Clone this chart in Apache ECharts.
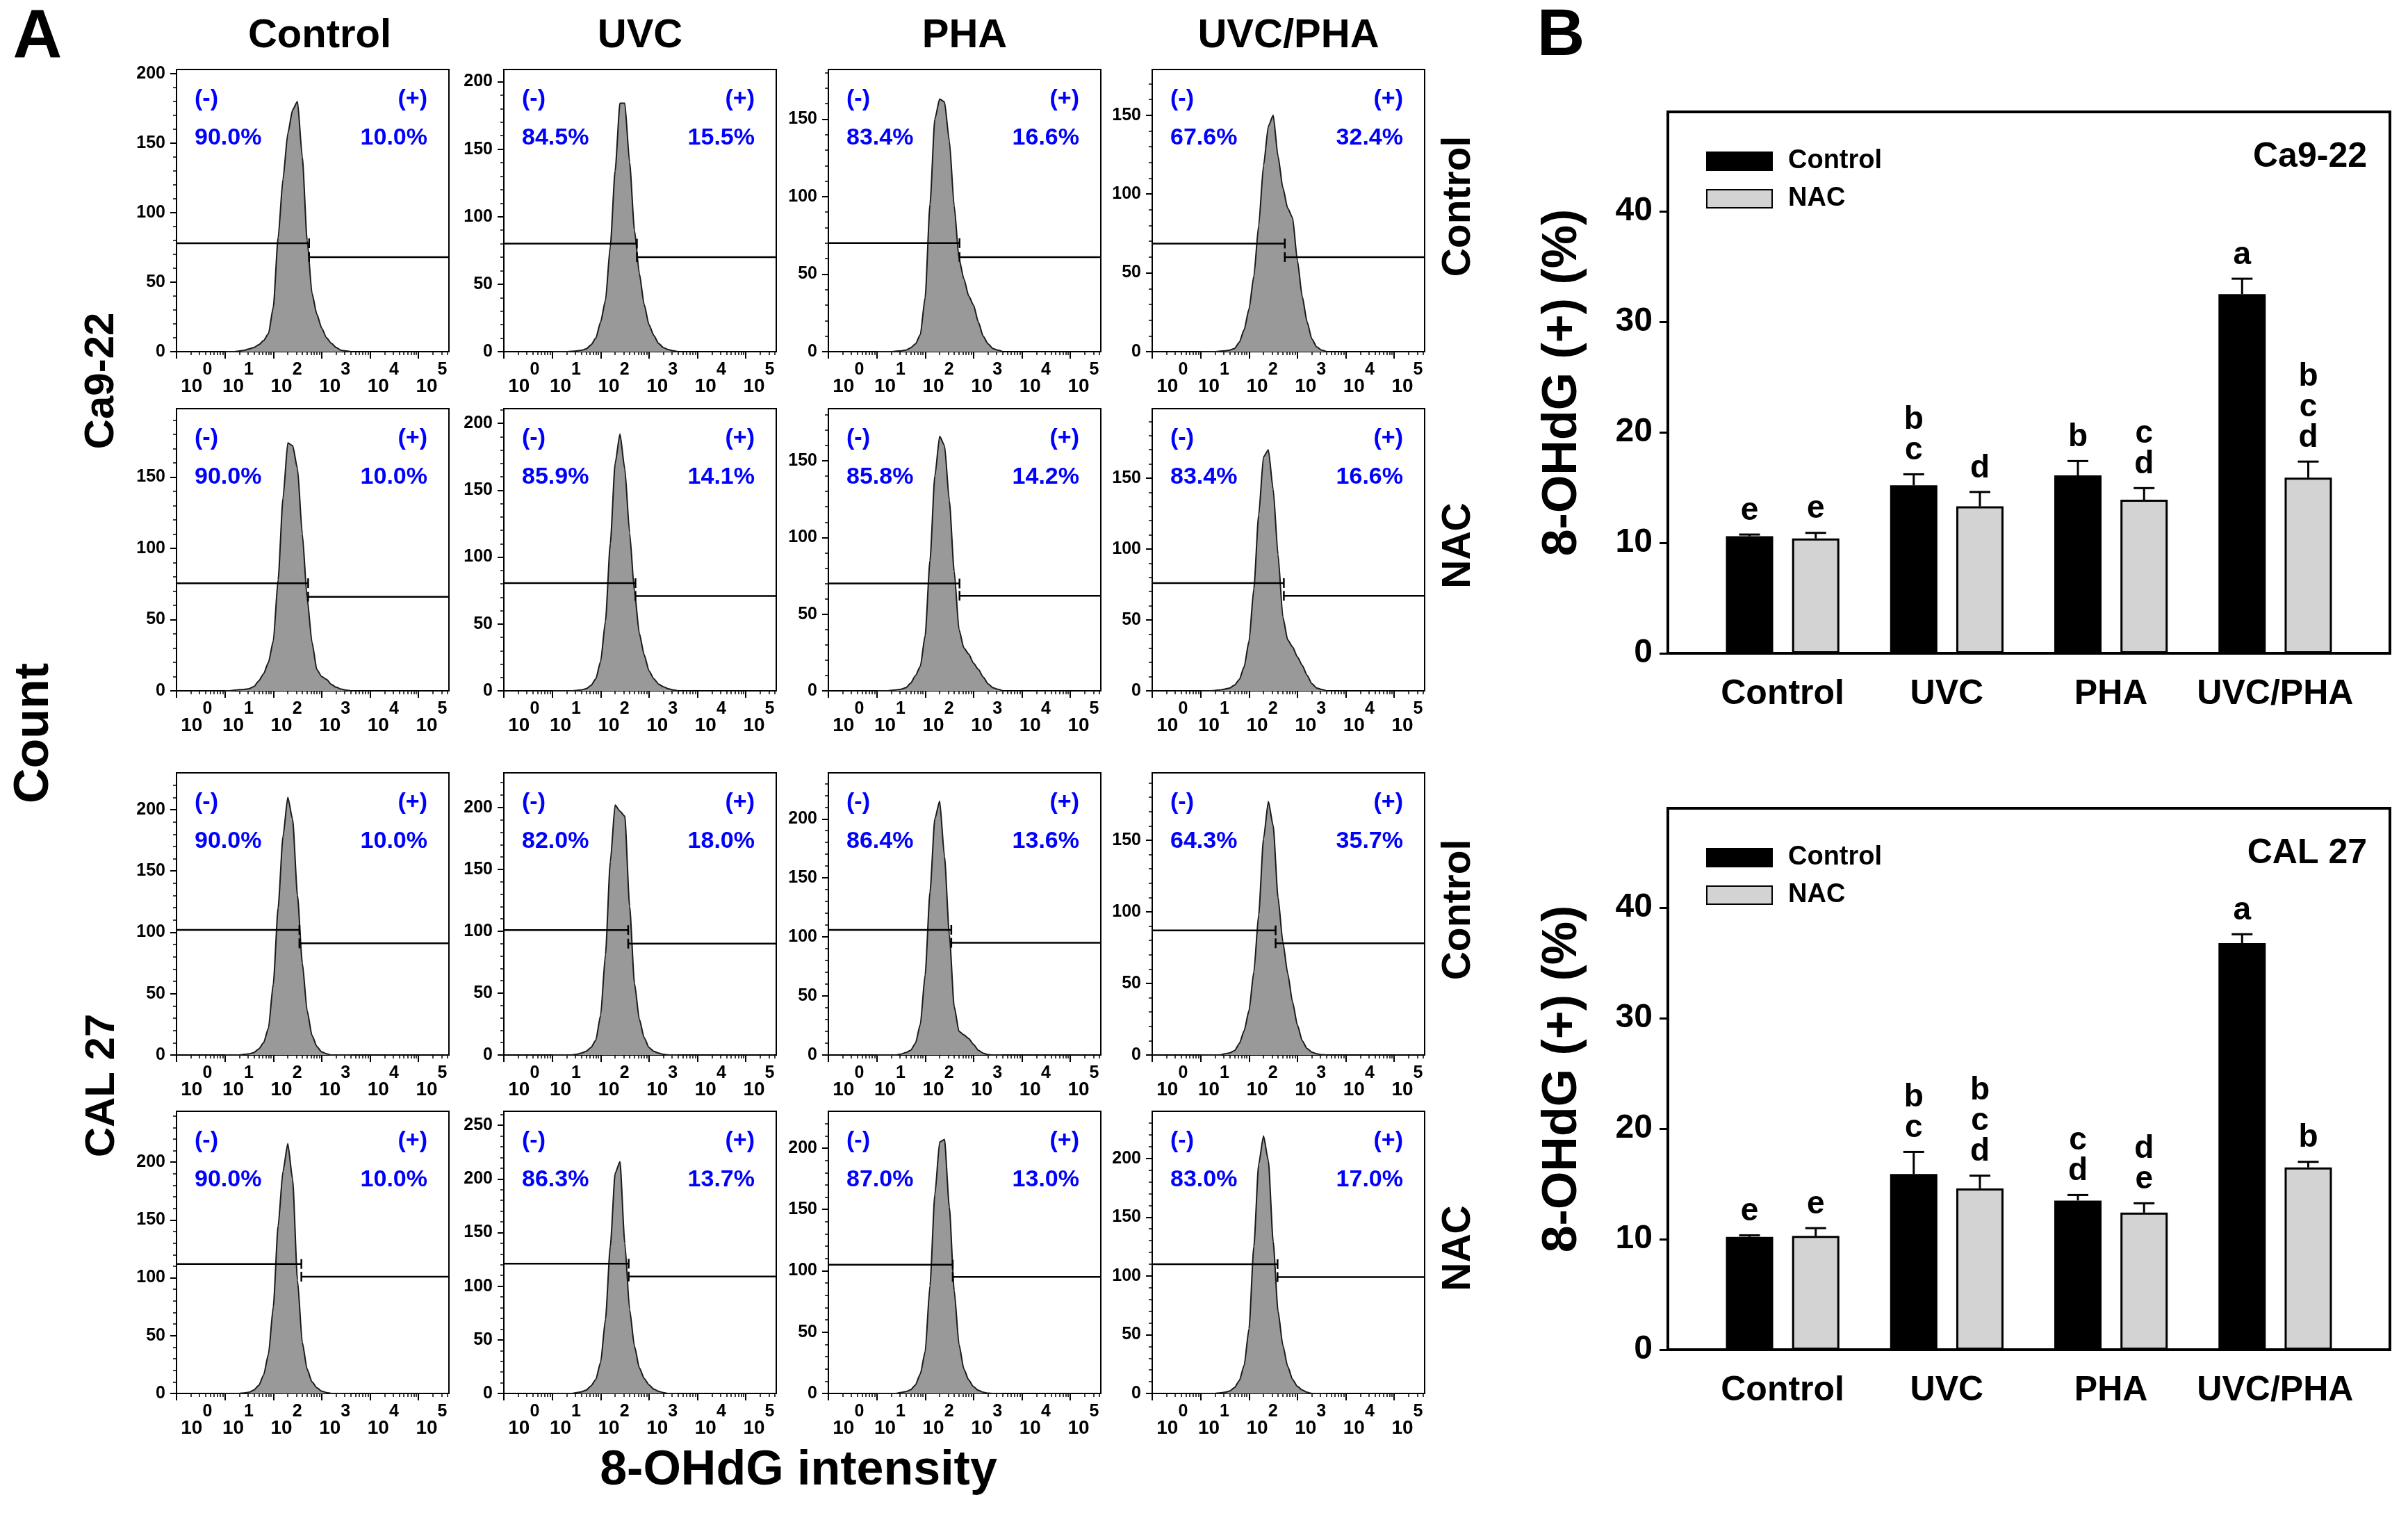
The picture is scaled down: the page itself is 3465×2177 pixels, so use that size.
<!DOCTYPE html>
<html>
<head>
<meta charset="utf-8">
<script src="https://cdn.jsdelivr.net/npm/echarts@6/dist/echarts.min.js"></script>
<style>
html, body { margin: 0; padding: 0; background: #fff; }
#chart { width: 3465px; height: 2177px; }
</style>
</head>
<body>
<div id="chart"></div>
<script>
// ---- panel A : flow histograms (x in log10 units of 8-OHdG intensity) ----
var logX = [1.0, 1.1, 1.2, 1.3, 1.4, 1.5, 1.6, 1.7, 1.8, 1.9, 2.0, 2.1, 2.2, 2.3, 2.4, 2.5, 2.6, 2.7, 2.8, 2.9, 3.0, 3.1, 3.2, 3.3, 3.4, 3.5, 3.6];

// order: Ca9-22 Control row, Ca9-22 NAC row, CAL 27 Control row, CAL 27 NAC row; columns Control, UVC, PHA, UVC/PHA
var hCount = [
	[0, 0, 0, 0.5, 1, 2, 3, 5, 8, 13, 32, 82, 124, 157, 174, 180, 140, 80, 42, 27, 17, 10, 6, 3, 1, 0.5, 0],
	[0, 0, 0, 0, 0.3, 0.5, 1, 2, 5, 10, 22, 38, 78, 134, 184, 184, 140, 90, 58, 35, 20, 12, 6, 3, 1.5, 0.6, 0],
	[0, 0, 0, 0, 0.3, 0.5, 1, 2.5, 5, 11, 35, 95, 150, 163, 161, 136, 94, 60, 47, 36, 30, 19, 10, 5, 2, 1, 0],
	[0, 0, 0, 0, 0.3, 0.5, 1, 2, 6, 14, 27, 48, 80, 118, 143, 150, 124, 104, 91, 85, 58, 35, 19, 8, 3, 1, 0],
	[0, 0, 0.5, 0.8, 1, 1.5, 3, 7, 12, 20, 35, 78, 135, 174, 172, 156, 110, 65, 34, 15, 10, 8, 4.5, 2.5, 1.2, 0.5, 0],
	[0, 0, 0, 0, 0, 0.3, 0.7, 1.5, 4, 9, 22, 52, 110, 170, 192, 166, 118, 74, 43, 27, 15, 9, 5, 3, 1.5, 0.6, 0],
	[0, 0, 0, 0.3, 0.6, 1, 2, 5, 10, 16, 36, 85, 140, 166, 160, 124, 78, 40, 28, 24, 18, 14, 9, 4.5, 2, 1, 0],
	[0, 0, 0, 0.3, 0.6, 1.2, 2, 4, 8, 17, 35, 72, 124, 165, 170, 142, 96, 52, 36, 31, 24, 18, 11, 5, 2, 1, 0],
	[0, 0, 0, 0, 0.5, 1, 2, 5, 10, 22, 58, 120, 178, 210, 192, 130, 75, 36, 16, 7, 2.5, 1, 0, 0, 0, 0, 0],
	[0, 0, 0, 0, 0, 0.5, 1.5, 3, 6, 12, 32, 81, 156, 202, 197, 193, 120, 58, 29, 14, 6, 3, 1.5, 0.5, 0, 0, 0],
	[0, 0, 0, 0, 0, 0.8, 2, 4, 10, 26, 68, 138, 200, 215, 168, 102, 41, 20, 17, 14, 9, 4, 1.5, 0.3, 0, 0, 0],
	[0, 0, 0, 0, 0, 0.8, 1.5, 3, 8, 17, 31, 58, 98, 151, 177, 160, 110, 79, 57, 37, 21, 10, 4.5, 2, 0.8, 0.2, 0],
	[0, 0, 0, 0, 0.5, 1, 3, 7, 16, 34, 75, 145, 192, 216, 185, 98, 44, 21, 10, 5, 2, 0.8, 0, 0, 0, 0, 0],
	[0, 0, 0, 0, 0, 0.8, 1.5, 3, 7, 13, 29, 69, 137, 205, 216, 140, 78, 44, 24, 14, 8, 4, 2, 0.8, 0, 0, 0],
	[0, 0, 0, 0, 0, 0.8, 1.5, 3, 7, 16, 34, 88, 162, 205, 207, 152, 84, 40, 20, 11, 5.5, 2.5, 1, 0.3, 0, 0, 0],
	[0, 0, 0, 0, 0.5, 1, 2, 5, 11, 24, 55, 125, 195, 219, 198, 129, 70, 41, 23, 12, 6, 3, 1, 0, 0, 0, 0]
];
var yMax = [203, 209, 182, 179, 198, 211, 184, 199, 230, 228, 239, 197, 244, 263, 230, 240];
var gateX = [2.74, 2.75, 2.71, 2.74, 2.72, 2.72, 2.71, 2.72, 2.54, 2.57, 2.54, 2.55, 2.58, 2.58, 2.57, 2.59];
var gateNeg = [78, 80, 70, 68.6, 75.5, 80.5, 70, 76, 102, 101, 106, 87, 112, 121, 105, 110];
var gatePos = [68, 70, 61, 60, 66, 71, 62, 67, 91, 90, 95, 78, 101, 109, 95, 99];
var pctNeg = ['90.0%', '84.5%', '83.4%', '67.6%', '90.0%', '85.9%', '85.8%', '83.4%', '90.0%', '82.0%', '86.4%', '64.3%', '90.0%', '86.3%', '87.0%', '83.0%'];
var pctPos = ['10.0%', '15.5%', '16.6%', '32.4%', '10.0%', '14.1%', '14.2%', '16.6%', '10.0%', '18.0%', '13.6%', '35.7%', '10.0%', '13.7%', '13.0%', '17.0%'];
var colTitles = ['Control', 'UVC', 'PHA', 'UVC/PHA'];
var rowTitles = ['Control', 'NAC', 'Control', 'NAC'];
var cellLines = ['Ca9-22', 'CAL 27'];

// ---- panel B : 8-OHdG (+) (%) ----
var cats = ['Control', 'UVC', 'PHA', 'UVC/PHA'];
var ca922Ctrl = [10.6, 15.2, 16.1, 32.5];
var ca922CtrlErr = [0.15, 1.0, 1.3, 1.4];
var ca922Nac = [10.4, 13.3, 13.9, 15.9];
var ca922NacErr = [0.5, 1.3, 1.05, 1.45];
var ca922CtrlSig = [['e'], ['b', 'c'], ['b'], ['a']];
var ca922NacSig = [['e'], ['d'], ['c', 'd'], ['b', 'c', 'd']];
var cal27Ctrl = [10.2, 15.9, 13.5, 36.8];
var cal27CtrlErr = [0.15, 2.0, 0.5, 0.8];
var cal27Nac = [10.3, 14.6, 12.4, 16.5];
var cal27NacErr = [0.7, 1.15, 0.85, 0.5];
var cal27CtrlSig = [['e'], ['b', 'c'], ['c', 'd'], ['a']];
var cal27NacSig = [['e'], ['b', 'c', 'd'], ['d', 'e'], ['b']];

var FF = '"Liberation Sans", Arial, Helvetica, sans-serif';
function font(size) {
	return 'bold ' + size + 'px ' + FF;
}
function txt(x, y, s, size, opt) {
	opt = opt || {};
	var al = opt.align || 'center';
	return {
		type : 'text', x : x, y : y, rotation : opt.rot || 0, z : 100, silent : true,
		style : {
			text : s, font : font(size), fill : opt.color || '#000',
			textAlign : al, align : al,
			textVerticalAlign : 'middle', verticalAlign : 'middle'
		}
	};
}

var grids = [], xAxes = [], yAxes = [], series = [], graphics = [], legends = [];

var colLeft = [254, 725, 1192, 1658], rowTop = [100, 588, 1112, 1599];
var hW = 392, hH = 406, xMaxLog = 5.63;
var labelShift = 0.27; // decade labels sit a little right of their ticks
var majorX = [0, 1, 2, 3, 4, 5];
var minorX = [];
for (var n = 0; n <= 5; n++) {
	for (var k = 2; k <= 9; k++) {
		var mv = n + Math.log10(k);
		if (mv < xMaxLog) minorX.push(mv);
	}
}

function gateRenderer(i) {
	return function(params, api) {
		var cs = params.coordSys;
		var a = api.coord([api.value(0), api.value(1)]);
		var b = api.coord([api.value(0), api.value(2)]);
		var st = { stroke : '#000', lineWidth : 2.5 };
		var tStyle = function(s, x, y, al) {
			return {
				type : 'text', x : x, y : y,
				style : { text : s, font : font(34), fill : '#0000ff', textAlign : al, align : al,
					textVerticalAlign : 'middle', verticalAlign : 'middle' }
			};
		};
		return {
			type : 'group',
			children : [
				{ type : 'line', shape : { x1 : cs.x, y1 : a[1], x2 : a[0], y2 : a[1] }, style : st },
				{ type : 'line', shape : { x1 : a[0], y1 : a[1] - 7, x2 : a[0], y2 : a[1] + 7 }, style : st },
				{ type : 'line', shape : { x1 : b[0], y1 : b[1] - 7, x2 : b[0], y2 : b[1] + 7 }, style : st },
				{ type : 'line', shape : { x1 : b[0], y1 : b[1], x2 : cs.x + cs.width, y2 : b[1] }, style : st },
				tStyle('(-)', cs.x + 26, cs.y + 43, 'left'),
				tStyle('(+)', cs.x + cs.width - 31, cs.y + 43, 'right'),
				tStyle(pctNeg[i], cs.x + 26, cs.y + 99, 'left'),
				tStyle(pctPos[i], cs.x + cs.width - 31, cs.y + 99, 'right')
			]
		};
	};
}

var decadeRich = {
	b : { fontSize : 28, fontWeight : 'bold', fontFamily : FF, color : '#000', lineHeight : 50, verticalAlign : 'bottom' },
	b0 : { fontSize : 28, fontWeight : 'bold', fontFamily : FF, color : '#000', lineHeight : 50,
		verticalAlign : 'bottom', padding : [0, 0, 0, 20] },
	s : { fontSize : 25, fontWeight : 'bold', fontFamily : FF, color : '#000', lineHeight : 18, verticalAlign : 'top' }
};

for (var i = 0; i < 16; i++) {
	var r = Math.floor(i / 4), c = i % 4;
	grids.push({
		left : colLeft[c], top : rowTop[r], width : hW, height : hH,
		show : true, borderColor : '#000', borderWidth : 2, backgroundColor : 'transparent',
		containLabel : false, outerBoundsMode : 'none'
	});
	var g = grids.length - 1;
	var yMajor = [0, 50, 100, 150, 200, 250].filter(function(v) { return v <= yMax[i]; });
	var yMinor = [];
	for (var t = 10; t < yMax[i]; t += 10) {
		if (t % 50) yMinor.push(t);
	}
	xAxes.push({
		gridIndex : g, type : 'value', position : 'bottom', min : 0, max : xMaxLog,
		axisLine : { lineStyle : { color : '#000', width : 2 } },
		axisTick : { customValues : majorX, length : 10, lineStyle : { color : '#000', width : 2 } },
		axisLabel : { show : false },
		splitLine : { show : false }
	});
	var xMain = xAxes.length - 1;
	xAxes.push({
		gridIndex : g, type : 'value', position : 'bottom', min : 0, max : xMaxLog,
		axisLine : { show : false },
		axisTick : { customValues : minorX, length : 5, lineStyle : { color : '#000', width : 1.5 } },
		axisLabel : { show : false }, splitLine : { show : false }
	});
	// label-only axis, same decade spacing, offset to the right
	xAxes.push({
		gridIndex : g, type : 'value', position : 'bottom', min : -labelShift, max : xMaxLog - labelShift,
		axisLine : { show : false }, axisTick : { show : false }, splitLine : { show : false },
		axisLabel : {
			customValues : majorX, margin : 14, color : '#000',
			showMinLabel : true, showMaxLabel : true, hideOverlap : false,
			formatter : function(v) {
				var d = Math.round(v);
				return (d === 0 ? '{b0|10}' : '{b|10}') + '{s|' + d + '}';
			},
			rich : decadeRich
		}
	});
	yAxes.push({
		gridIndex : g, type : 'value', position : 'left', min : 0, max : yMax[i],
		axisLine : { show : true, lineStyle : { color : '#000', width : 2 } },
		axisTick : { customValues : yMajor, length : 9, lineStyle : { color : '#000', width : 2 } },
		axisLabel : { customValues : yMajor, margin : 16, fontSize : 25, fontWeight : 'bold', fontFamily : FF, color : '#000',
			showMinLabel : true, showMaxLabel : true, hideOverlap : false },
		splitLine : { show : false }
	});
	var yMain = yAxes.length - 1;
	yAxes.push({
		gridIndex : g, type : 'value', position : 'left', min : 0, max : yMax[i],
		axisLine : { show : false },
		axisTick : { customValues : yMinor, length : 5, lineStyle : { color : '#000', width : 1.5 } },
		axisLabel : { show : false }, splitLine : { show : false }
	});
	var pts = [];
	for (var j = 0; j < logX.length; j++) pts.push([logX[j], hCount[i][j]]);
	series.push({
		name : 'hist' + i, type : 'line', xAxisIndex : xMain, yAxisIndex : yMain, data : pts,
		symbol : 'none', smooth : 0.2, smoothMonotone : 'x', silent : true, z : 2,
		lineStyle : { color : '#1a1a1a', width : 2 },
		areaStyle : { color : '#999999', opacity : 1 }
	});
	series.push({
		name : 'gate' + i, type : 'custom', xAxisIndex : xMain, yAxisIndex : yMain,
		data : [[gateX[i], gateNeg[i], gatePos[i]]], renderItem : gateRenderer(i), silent : true, z : 5
	});
}

// panel A texts
graphics.push(txt(54, 55, 'A', 98));
for (var c2 = 0; c2 < 4; c2++) {
	graphics.push(txt(colLeft[c2] + hW / 2 + (c2 === 0 ? 10 : 0), 52, colTitles[c2], 58));
}
for (var r2 = 0; r2 < 4; r2++) {
	graphics.push(txt(2099, rowTop[r2] + hH / 2 - 6, rowTitles[r2], 57, { rot : Math.PI / 2 }));
}
graphics.push(txt(146, 548, cellLines[0], 60, { rot : Math.PI / 2 }));
graphics.push(txt(147, 1562, cellLines[1], 60, { rot : Math.PI / 2 }));
graphics.push(txt(50, 1055, 'Count', 70, { rot : Math.PI / 2 }));
graphics.push(txt(1149, 2117, '8-OHdG intensity', 70));
graphics.push(txt(2246, 53, 'B', 95));

// ---- panel B bar charts ----
function errRenderer(offset, sig) {
	return function(params, api) {
		var base = api.coord([api.value(0), api.value(1)]);
		var top = api.coord([api.value(0), api.value(1) + api.value(2)]);
		var x = base[0] + offset;
		var st = { stroke : '#000', lineWidth : 3 };
		return {
			type : 'group',
			children : [
				{ type : 'line', shape : { x1 : x, y1 : base[1], x2 : x, y2 : top[1] }, style : st },
				{ type : 'line', shape : { x1 : x - 15, y1 : top[1], x2 : x + 15, y2 : top[1] }, style : st },
				{ type : 'text', x : x, y : top[1] - 12,
					style : { text : sig[params.dataIndex].join('\n'), font : font(46), fill : '#000', lineHeight : 44,
						textAlign : 'center', align : 'center', textVerticalAlign : 'bottom', verticalAlign : 'bottom' } }
			]
		};
	};
}

function addBarChart(frameTop, ctrl, ctrlErr, nac, nacErr, ctrlSig, nacSig, label) {
	grids.push({ left : 2400, top : frameTop, width : 1039, height : 779, show : true,
		borderColor : '#000', borderWidth : 4, backgroundColor : 'transparent', containLabel : false, outerBoundsMode : 'none' });
	var fg = grids.length - 1;
	grids.push({ left : 2447, top : frameTop, width : 945, height : 779, containLabel : false, outerBoundsMode : 'none' });
	var bg = grids.length - 1;
	xAxes.push({ gridIndex : fg, type : 'value', min : 0, max : 1, show : false });
	yAxes.push({
		gridIndex : fg, type : 'value', min : 0, max : 49,
		axisLine : { show : false },
		axisTick : { show : true, customValues : [0, 10, 20, 30, 40], length : 12, lineStyle : { color : '#000', width : 3 } },
		axisLabel : { customValues : [0, 10, 20, 30, 40], margin : 22, fontSize : 48, fontWeight : 'bold', fontFamily : FF, color : '#000' },
		splitLine : { show : false },
		name : '8-OHdG (+) (%)', nameLocation : 'middle', nameGap : 116,
		nameTextStyle : { fontSize : 70, fontWeight : 'bold', fontFamily : FF, color : '#000' }
	});
	xAxes.push({
		gridIndex : bg, type : 'category', data : cats,
		axisLine : { show : false }, axisTick : { show : false },
		axisLabel : { interval : 0, margin : 34, fontSize : 50, fontWeight : 'bold', fontFamily : FF, color : '#000' }
	});
	var bx = xAxes.length - 1;
	yAxes.push({ gridIndex : bg, type : 'value', min : 0, max : 49, show : false });
	var by = yAxes.length - 1;
	series.push({
		name : 'Control', type : 'bar', xAxisIndex : bx, yAxisIndex : by, data : ctrl,
		barWidth : 68, barGap : '40%', silent : true,
		itemStyle : { color : '#000', borderColor : '#000', borderWidth : 2 }
	});
	series.push({
		name : 'NAC', type : 'bar', xAxisIndex : bx, yAxisIndex : by, data : nac,
		barWidth : 68, barGap : '40%', silent : true,
		itemStyle : { color : '#d3d3d3', borderColor : '#000', borderWidth : 3 }
	});
	series.push({
		name : 'errCtrl', type : 'custom', xAxisIndex : bx, yAxisIndex : by, silent : true, z : 5,
		data : ctrl.map(function(v, j) { return [j, v, ctrlErr[j]]; }), renderItem : errRenderer(-47.6, ctrlSig)
	});
	series.push({
		name : 'errNac', type : 'custom', xAxisIndex : bx, yAxisIndex : by, silent : true, z : 5,
		data : nac.map(function(v, j) { return [j, v, nacErr[j]]; }), renderItem : errRenderer(47.6, nacSig)
	});
	legends.push({
		data : ['Control', 'NAC'], orient : 'vertical', left : 2450, top : frameTop + 46,
		itemWidth : 94, itemHeight : 26, itemGap : 14, icon : 'rect', selectedMode : false,
		textStyle : { fontSize : 38, fontWeight : 'bold', fontFamily : FF, color : '#000', lineHeight : 40, padding : [0, 0, 0, 18] }
	});
	graphics.push(txt(3406, frameTop + 65, label, 50, { align : 'right' }));
}

addBarChart(161, ca922Ctrl, ca922CtrlErr, ca922Nac, ca922NacErr, ca922CtrlSig, ca922NacSig, cellLines[0]);
addBarChart(1163, cal27Ctrl, cal27CtrlErr, cal27Nac, cal27NacErr, cal27CtrlSig, cal27NacSig, cellLines[1]);

var chart = echarts.init(document.getElementById('chart'));
chart.setOption({
	animation : false,
	backgroundColor : '#fff',
	grid : grids,
	xAxis : xAxes,
	yAxis : yAxes,
	legend : legends,
	series : series,
	graphic : graphics
});
</script>
</body>
</html>
